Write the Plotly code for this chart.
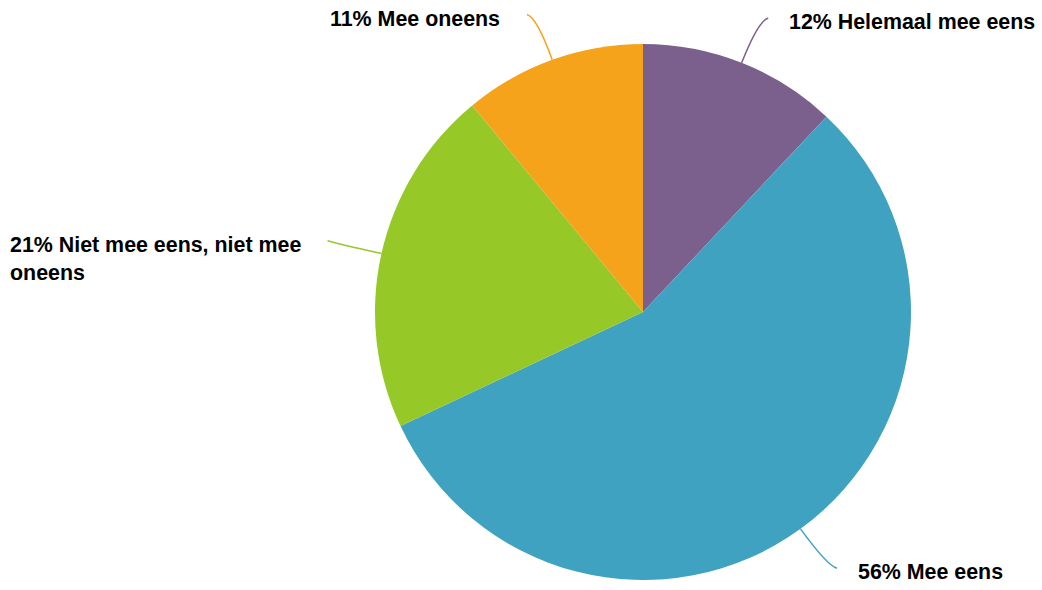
import math
import plotly.graph_objects as go

categories = ["Helemaal mee eens", "Mee eens", "Niet mee eens, niet mee oneens", "Mee oneens"]
values = [12, 56, 21, 11]
label_texts = ["12% Helemaal mee eens", "56% Mee eens", "21% Niet mee eens, niet mee<br>oneens", "11% Mee oneens"]
colors = ["#7B5F8C", "#40A2C1", "#96C827", "#F4A31B"]

W, H = 1042, 590
cx, cy, r = 643, 312, 268

fig = go.Figure(go.Pie(
    labels=categories,
    values=values,
    sort=False,
    direction="clockwise",
    rotation=0,
    textinfo="none",
    hoverinfo="label+percent",
    marker=dict(colors=colors, line=dict(color="white", width=0)),
    domain=dict(x=[(cx - 300) / W, (cx + 300) / W], y=[(H - cy - r) / H, (H - cy + r) / H]),
    showlegend=False,
))

def px(x):
    return x / W

def py(y):
    return 1 - y / H

total = sum(values)
cum = 0
shapes = []
annotations = []
ext = 45
shift = 10
for v, txt, col in zip(values, label_texts, colors):
    mid = (cum + v / 2) / total * 2 * math.pi
    cum += v
    dx, dy = math.sin(mid), -math.cos(mid)
    sx, sy = cx + r * dx, cy + r * dy
    ox, oy = cx + (r + ext) * dx, cy + (r + ext) * dy
    side = 1 if dx >= 0 else -1
    gap = 19 if side > 0 else 25
    ex, ey = ox + side * shift, oy - 3 if dy < 0 else oy + 3
    path = f"M {px(sx)},{py(sy)} Q {px(ox)},{py(oy)} {px(ex)},{py(ey)}"
    shapes.append(dict(type="path", path=path, xref="paper", yref="paper",
                       line=dict(color=col, width=1.5)))
    annotations.append(dict(
        x=px(ex + side * gap), y=py(ey - 10), xref="paper", yref="paper",
        xanchor="left" if side > 0 else "right", yanchor="top", align="left",
        text=f"<b>{txt}</b>", showarrow=False,
        font=dict(family="Liberation Sans, Arial, sans-serif", size=21.4, color="#000000"),
    ))

fig.update_layout(
    width=W, height=H,
    margin=dict(l=0, r=0, t=0, b=0),
    paper_bgcolor="white", plot_bgcolor="white",
    shapes=shapes, annotations=annotations,
)
fig.write_html("out.html", config={"displayModeBar": False},
               post_script="document.body.style.margin='0';document.body.style.overflow='hidden';")
